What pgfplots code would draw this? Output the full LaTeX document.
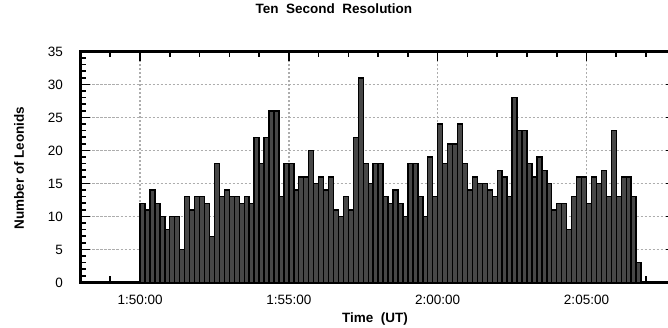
\documentclass[border=0pt]{standalone}
\usepackage{fontspec}
\setmainfont{Liberation Sans}
\usepackage{pgfplots}
\pgfplotsset{compat=1.18}
\begin{document}
\begin{tikzpicture}[x=1pt,y=1pt]
\useasboundingbox (-80.5,-45.5) rectangle (587.5,282.5);
\clip (-80.5,-45.5) rectangle (587.5,282.5);
\begin{axis}[
  at={(0,0)}, anchor=south west, scale only axis,
  width=595.3pt, height=231pt,
  xmin=-120, xmax=1080, ymin=0, ymax=35,
  xtick={0,300,600,900},
  xticklabels={1:50:00,1:55:00,2:00:00,2:05:00},
  minor xtick={-60,60,120,180,240,360,420,480,540,660,720,780,840,960,1020},
  ytick={0,5,...,35},
  minor y tick num=4,
  tick align=inside,
  major tick length=10pt, minor tick length=6pt,
  tick style={black, line width=1.6pt},
  axis line style={line width=2.6pt},
  xmajorgrids, ymajorgrids,
  major grid style={black!32, line width=1.6pt, dash pattern=on 2.5pt off 1.5pt},
  tick label style={font=\fontsize{13.5}{16}\selectfont},
  /pgf/number format/assume math mode=true,
  yticklabel style={xshift=-14pt},
  xticklabel style={yshift=-9pt},
  xlabel={Time\ \ (UT)},
  xlabel style={at={(axis description cs:0.4947,-0.160)}, anchor=center, font=\bfseries\fontsize{13.5}{16}\selectfont},
  ylabel={Number of Leonids},
  ylabel style={at={(axis description cs:-0.1033,0.4957)}, anchor=center, font=\bfseries\fontsize{13.5}{16}\selectfont},
  title={Ten\ \ Second\ \ Resolution},
  title style={at={(axis description cs:0.4258,1.158)}, anchor=center, font=\bfseries\fontsize{13.5}{16}\selectfont},
]
\addplot[ybar interval, fill=black!72, draw=black, line width=1.4pt] coordinates {
(0,12)(10,11)(20,14)(30,12)(40,10)(50,8)(60,10)(70,10)(80,5)(90,13)(100,11)(110,13)(120,13)(130,12)(140,7)(150,18)(160,13)(170,14)(180,13)(190,13)(200,12)(210,13)(220,12)(230,22)(240,18)(250,22)(260,26)(270,26)(280,13)(290,18)
(300,18)(310,14)(320,16)(330,16)(340,20)(350,15)(360,16)(370,14)(380,16)(390,11)(400,10)(410,13)(420,11)(430,22)(440,31)(450,18)(460,15)(470,18)(480,18)(490,13)(500,12)(510,14)(520,12)(530,10)(540,18)(550,18)(560,13)(570,10)(580,19)(590,13)
(600,24)(610,18)(620,21)(630,21)(640,24)(650,18)(660,14)(670,16)(680,15)(690,15)(700,14)(710,13)(720,17)(730,16)(740,13)(750,28)(760,23)(770,23)(780,18)(790,16)(800,19)(810,17)(820,15)(830,11)(840,12)(850,12)(860,8)(870,13)(880,16)(890,16)
(900,12)(910,16)(920,15)(930,17)(940,13)(950,23)(960,13)(970,16)(980,16)(990,13)(1000,3)(1010,0)
};
\end{axis}
\end{tikzpicture}
\end{document}
